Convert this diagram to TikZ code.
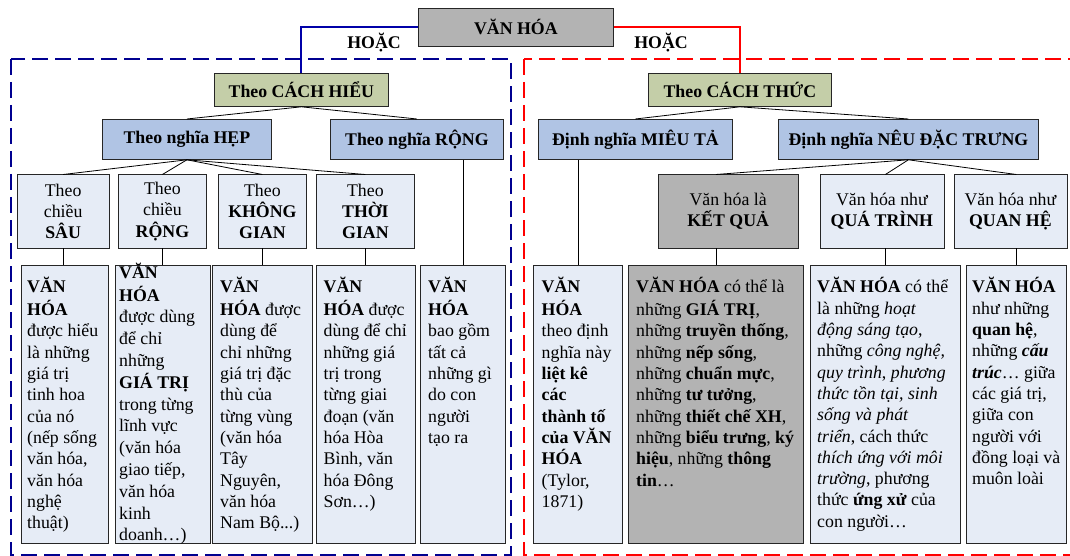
\documentclass[tikz,border=0pt]{standalone}
\usepackage{fontspec}
\setmainfont{Liberation Serif}
\definecolor{cOlive}{HTML}{C4CEA8}
\definecolor{cBlueTwo}{HTML}{B0C4E4}
\definecolor{cBlueThree}{HTML}{E6ECF6}
\definecolor{cGray}{HTML}{B3B3B3}
\definecolor{cNavy}{HTML}{000090}
\definecolor{cLineBlue}{HTML}{0000A8}
\definecolor{cRed}{HTML}{FF0000}
\begin{document}
\begin{tikzpicture}[x=1pt,y=-1pt,
  every node/.style={font=\fontsize{17.8}{21.3}\selectfont},
  boxbase/.style={draw=black!85, line width=0.8pt, inner sep=0pt, anchor=north west, align=center},
  topbox/.style={boxbase, fill=cGray, font=\fontsize{17.8}{21.3}\selectfont\bfseries},
  lvone/.style={boxbase, fill=cOlive, font=\fontsize{17.8}{21.3}\selectfont\bfseries},
  lvtwo/.style={boxbase, fill=cBlueTwo, font=\fontsize{17.8}{21.3}\selectfont\bfseries},
  lvthree/.style={boxbase, fill=cBlueThree},
  lvthreegray/.style={boxbase, fill=cGray},
  lvfour/.style={boxbase, fill=cBlueThree},
  lvfourgray/.style={boxbase, fill=cGray},
  txt/.style={anchor=north west, align=left, inner sep=0pt},
  conn/.style={draw=black, line width=0.8pt},
  blueconn/.style={draw=cLineBlue, line width=2pt},
  redconn/.style={draw=cRed, line width=2pt},
  bluedash/.style={draw=cNavy, line width=2pt, dash pattern=on 16pt off 7pt},
  reddash/.style={draw=cRed, line width=2pt, dash pattern=on 16pt off 7pt},
  orlabel/.style={font=\fontsize{17.8}{21.3}\selectfont\bfseries, inner sep=0pt}
]
\useasboundingbox (0,0) rectangle (1070,556);
\clip (0,0) rectangle (1070,556);

% dashed frames
\draw[bluedash] (11,59) rectangle (511,555);
\draw[reddash] (524,59) rectangle (1090,555);

% top
\node[topbox, minimum width=195pt, minimum height=38pt] (vh) at (418,8) {VĂN HÓA};
\node[orlabel] (or1) at (374,43) {HOẶC};
\node[orlabel] (or2) at (661,43) {HOẶC};

% level 1
\node[lvone, minimum width=174pt, minimum height=33pt] (ch) at (214,73) {Theo CÁCH HIỂU};
\node[lvone, minimum width=183pt, minimum height=33pt] (ct) at (648,73) {Theo CÁCH THỨC};

% level 2
\node[lvtwo, minimum width=169pt, minimum height=40pt] (hep) at (102,119) {Theo nghĩa HẸP};
\node[lvtwo, minimum width=173pt, minimum height=40pt] (rong) at (330,119) {Theo nghĩa RỘNG};
\node[lvtwo, minimum width=194pt, minimum height=40pt] (mt) at (538,119) {Định nghĩa MIÊU TẢ};
\node[lvtwo, minimum width=260pt, minimum height=40pt] (nd) at (778,119) {Định nghĩa NÊU ĐẶC TRƯNG};

% level 3
\node[lvthree, minimum width=91.5pt, minimum height=73pt] (s1) at (17,174.5) {Theo\\chiều\\\textbf{SÂU}};
\node[lvthree, minimum width=88pt, minimum height=73pt] (s2) at (118,174.5) {Theo\\chiều\\\textbf{RỘNG}};
\node[lvthree, minimum width=88pt, minimum height=73pt] (s3) at (218,174.5) {Theo\\\textbf{KHÔNG}\\\textbf{GIAN}};
\node[lvthree, minimum width=98pt, minimum height=73pt] (s4) at (316,174.5) {Theo\\\textbf{THỜI}\\\textbf{GIAN}};
\node[lvthreegray, minimum width=140.5pt, minimum height=73pt] (k3) at (657.5,174.5) {Văn hóa là\\\textbf{KẾT QUẢ}};
\node[lvthree, minimum width=124pt, minimum height=73pt] (q3) at (819.5,174.5) {Văn hóa như\\\textbf{QUÁ TRÌNH}};
\node[lvthree, minimum width=113pt, minimum height=73pt] (r3) at (953.5,174.5) {Văn hóa như\\\textbf{QUAN HỆ}};

% level 4 boxes
\node[lvfour, minimum width=87.5pt, minimum height=278pt] (b1) at (20.5,265) {};
\node[lvfour, minimum width=95pt, minimum height=278pt] (b2) at (115,265) {};
\node[lvfour, minimum width=99.5pt, minimum height=278pt] (b3) at (212,265) {};
\node[lvfour, minimum width=99pt, minimum height=278pt] (b4) at (315.5,265) {};
\node[lvfour, minimum width=85pt, minimum height=278pt] (b5) at (420,265) {};
\node[lvfour, minimum width=89pt, minimum height=278pt] (m4) at (533,265) {};
\node[lvfourgray, minimum width=175pt, minimum height=278pt] (k4) at (628,265) {};
\node[lvfour, minimum width=150pt, minimum height=278pt] (q4) at (810,265) {};
\node[lvfour, minimum width=100pt, minimum height=278pt] (r4) at (966,265) {};

% connectors
\draw[blueconn] (vh.west) -| (ch.north);
\draw[redconn] (vh.east) -| (ct.north);
\draw[conn] (ch.south) -- (hep.north);
\draw[conn] (ch.south) -- (rong.north);
\draw[conn] (ct.south) -- (mt.north);
\draw[conn] (ct.south) -- (nd.north);
\draw[conn] (hep.south) -- (s1.north);
\draw[conn] (hep.south) -- (s2.north);
\draw[conn] (hep.south) -- (s3.north);
\draw[conn] (hep.south) -- (s4.north);
\draw[conn] (nd.south) -- (k4.north |- k3.north);
\draw[conn] (nd.south) -- (q4.north |- q3.north);
\draw[conn] (nd.south) -- (r4.north |- r3.north);
\draw[conn] (s1.south) -- (s1.south |- b1.north);
\draw[conn] (s2.south) -- (s2.south |- b2.north);
\draw[conn] (s3.south) -- (s3.south |- b3.north);
\draw[conn] (s4.south) -- (s4.south |- b4.north);
\draw[conn] (b5.north |- rong.south) -- (b5.north);
\draw[conn] (m4.north |- mt.south) -- (m4.north);
\draw[conn] (k4.north |- k3.south) -- (k4.north);
\draw[conn] (q4.north |- q3.south) -- (q4.north);
\draw[conn] (r4.north |- r3.south) -- (r4.north);

% level 4 texts
\node[txt] (t1) at ([xshift=6.5pt,yshift=-12.3pt]b1.north west) {\strut\textbf{VĂN}\\\textbf{HÓA}\\được hiểu\\là những\\giá trị\\tinh hoa\\của nó\\(nếp sống\\văn hóa,\\văn hóa\\nghệ\\thuật)};
\node[txt, font=\fontsize{17.8}{21.8}\selectfont] (t2) at ([xshift=4pt,yshift=2.3pt]b2.north west) {\strut\textbf{VĂN}\\\textbf{HÓA}\\được dùng\\để chỉ\\những\\\textbf{GIÁ TRỊ}\\trong từng\\lĩnh vực\\(văn hóa\\giao tiếp,\\văn hóa\\kinh\\doanh…)};
\node[txt] (t3) at ([xshift=8pt,yshift=-12.3pt]b3.north west) {\strut\textbf{VĂN}\\\textbf{HÓA} được\\dùng để\\chỉ những\\giá trị đặc\\thù của\\từng vùng\\(văn hóa\\Tây\\Nguyên,\\văn hóa\\Nam Bộ...)};
\node[txt] (t4) at ([xshift=8pt,yshift=-12.3pt]b4.north west) {\strut\textbf{VĂN}\\\textbf{HÓA} được\\dùng để chỉ\\những giá\\trị trong\\từng giai\\đoạn (văn\\hóa Hòa\\Bình, văn\\hóa Đông\\Sơn…)};
\node[txt] (t5) at ([xshift=8pt,yshift=-12.3pt]b5.north west) {\strut\textbf{VĂN}\\\textbf{HÓA}\\bao gồm\\tất cả\\những gì\\do con\\người\\tạo ra};
\node[txt] (t6) at ([xshift=8.5pt,yshift=-12.3pt]m4.north west) {\strut\textbf{VĂN}\\\textbf{HÓA}\\theo định\\nghĩa này\\\textbf{liệt kê}\\\textbf{các}\\\textbf{thành tố}\\\textbf{của VĂN}\\\textbf{HÓA}\\(Tylor,\\1871)};
\node[txt] (t7) at ([xshift=8pt,yshift=-12.3pt]k4.north west) {\strut\textbf{VĂN HÓA} có thể là\\những \textbf{GIÁ TRỊ},\\những \textbf{truyền thống},\\những \textbf{nếp sống},\\những \textbf{chuẩn mực},\\những \textbf{tư tưởng},\\những \textbf{thiết chế XH},\\những \textbf{biểu trưng}, \textbf{ký}\\\textbf{hiệu}, những \textbf{thông}\\\textbf{tin}…};
\node[txt] (t8) at ([xshift=7pt,yshift=-12.3pt]q4.north west) {\strut\textbf{VĂN HÓA} có thể\\là những \textit{hoạt}\\\textit{động sáng tạo},\\những \textit{công nghệ,}\\\textit{quy trình}, \textit{phương}\\\textit{thức tồn tại, sinh}\\\textit{sống và phát}\\\textit{triển}, cách thức\\\textit{thích ứng với môi}\\\textit{trường}, phương\\thức \textbf{ứng xử} của\\con người…};
\node[txt] (t9) at ([xshift=6pt,yshift=-12.3pt]r4.north west) {\strut\textbf{VĂN HÓA}\\như những\\\textbf{quan hệ},\\những \textbf{\textit{cấu}}\\\textbf{\textit{trúc}}… giữa\\các giá trị,\\giữa con\\người với\\đồng loại và\\muôn loài};
\end{tikzpicture}
\end{document}
